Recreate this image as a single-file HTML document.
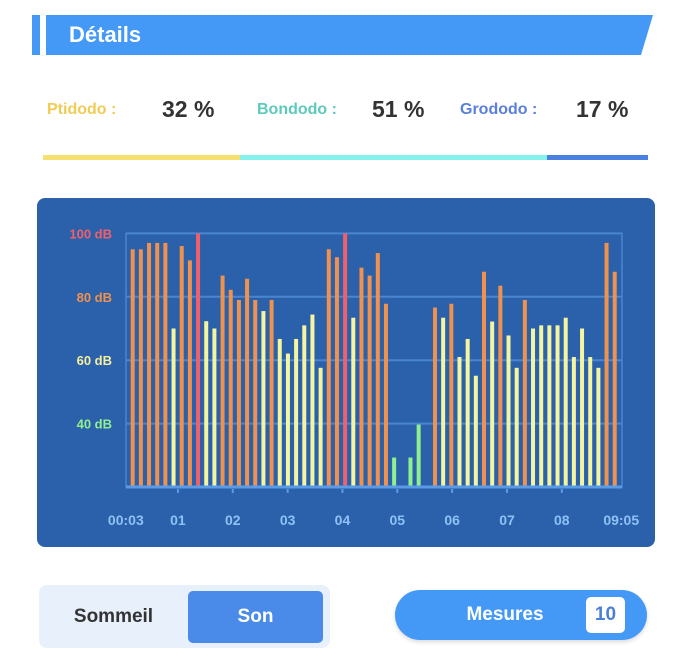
<!DOCTYPE html>
<html><head><meta charset="utf-8"><style>
body{margin:0;width:690px;height:665px;background:#fff;font-family:"Liberation Sans",sans-serif;position:relative;overflow:hidden}
.abs{position:absolute}
</style></head><body>
<div class="abs" style="left:32px;top:15px;width:8px;height:40px;background:#4499f7"></div>
<svg class="abs" style="left:0;top:0" width="690" height="60"><polygon points="46,15 653,15 641,55 46,55" fill="#4499f7"/></svg>
<div class="abs" style="left:69px;top:20px;font-size:22px;font-weight:bold;color:#fff;line-height:30px">Détails</div>

<div class="abs" style="left:47px;top:101px;font-size:16px;font-weight:bold;color:#f0cc55">Ptidodo :</div>
<div class="abs" style="left:162px;top:96px;font-size:23px;font-weight:bold;color:#333">32 %</div>
<div class="abs" style="left:257px;top:101px;font-size:16px;font-weight:bold;color:#5ccbbb">Bondodo :</div>
<div class="abs" style="left:372px;top:96px;font-size:23px;font-weight:bold;color:#333">51 %</div>
<div class="abs" style="left:460px;top:101px;font-size:16px;font-weight:bold;color:#5a7fdc">Grododo :</div>
<div class="abs" style="left:576px;top:96px;font-size:23px;font-weight:bold;color:#333">17 %</div>
<div class="abs" style="left:43px;top:155px;width:197px;height:5px;background:#f5e070"></div>
<div class="abs" style="left:240px;top:155px;width:307px;height:5px;background:#86f2ee"></div>
<div class="abs" style="left:547px;top:155px;width:101px;height:5px;background:#4a80e0"></div>

<div class="abs" style="left:37px;top:198px;width:618px;height:349px;background:#2b60aa;border-radius:8px"></div>
<svg id="chart" class="abs" style="left:0;top:0" width="690" height="560"></svg>

<div class="abs" style="left:39px;top:585px;width:291px;height:63px;background:#e8f0fc;border-radius:8px"></div>
<div class="abs" style="left:39px;top:591px;width:149px;height:52px;line-height:52px;text-align:center;font-size:19px;font-weight:bold;color:#333">Sommeil</div>
<div class="abs" style="left:188px;top:591px;width:135px;height:52px;line-height:52px;text-align:center;font-size:19px;font-weight:bold;color:#fff;background:#4a8ae8;border-radius:5px">Son</div>
<div class="abs" style="left:395px;top:590px;width:252px;height:50px;background:#4499f7;border-radius:25px;box-shadow:0 2px 4px rgba(0,0,0,.15)"></div>
<div class="abs" style="left:420px;top:590px;width:170px;line-height:50px;text-align:center;font-size:19px;font-weight:bold;color:#fff">Mesures</div>
<div class="abs" style="left:586px;top:597px;width:39px;height:36px;line-height:36px;text-align:center;background:#fff;border-radius:5px;font-size:19px;font-weight:bold;color:#4a80d8">10</div>

<script>
const values=[95,95,97,97,97,70,96,91.5,100,72.3,70,86.7,82.2,79,85.7,79,75.5,79,66.7,62.1,66.7,71,74.4,57.6,95,92.5,100,73.4,89.2,86.7,93.8,77.8,29.3,null,29.3,39.7,null,76.6,73.4,77.8,61,66.7,55.1,87.9,72.2,83.5,67.8,57.6,79,70,71,71,71,73.4,61,70,61,57.6,97,87.9];
const yTicks=[40,60,80,100];
const yTickLabels=["40 dB","60 dB","80 dB","100 dB"];
const xTickTimes=[3,60,120,180,240,300,360,420,480,545];
const xTickLabels=["00:03","01","02","03","04","05","06","07","08","09:05"];
const NS="http://www.w3.org/2000/svg";
const svg=document.getElementById('chart');
const plotL=126,plotR=622,base=487;
function y(v){return base-(v-20)*3.17;}
function xt(t){return 123.1+0.914*t;}
function xb(i){return 132.7+i*8.17;}
function col(v){return v>=99?"#f0606a":v>=76?"#f0924e":v>=50?"#f5f5a0":"#90f090";}
function tcol(v){return v>=100?"#f0606a":v>=80?"#f0924e":v>=60?"#f5f0a0":"#90f090";}
function mk(tag,a){const e=document.createElementNS(NS,tag);for(const k in a)e.setAttribute(k,a[k]);svg.appendChild(e);return e;}
// frame
let fr=mk('rect',{x:plotL,y:y(100),width:plotR-plotL,height:base-y(100),fill:'none',stroke:'#4a85d0','stroke-width':1.5});


yTicks.forEach((v,i)=>{
  const g=mk('line',{x1:plotL,x2:plotR,y1:y(v),y2:y(v),stroke:'#4a85d0','stroke-width':2});
  
  
  const t=mk('text',{x:112,y:y(v)+5,'text-anchor':'end','font-size':13,'font-weight':'bold',fill:tcol(v),'font-family':'Liberation Sans, sans-serif'});
  t.textContent=yTickLabels[i];
  
  
});
values.forEach((v,i)=>{
  if(v==null)return;
  const r=mk('rect',{x:xb(i)-2,y:y(v),width:4,height:base-y(v),fill:col(v)});
  
  
});
let ax=mk('line',{x1:plotL,x2:plotR,y1:base,y2:base,stroke:'#5a9be8','stroke-width':3});


xTickTimes.forEach((tm,i)=>{
  if(i>0&&i<xTickTimes.length-1){
    const k=mk('line',{x1:xt(tm),x2:xt(tm),y1:base+2,y2:base+6,stroke:'#5a9be8','stroke-width':2});
    
    
  }
  const t=mk('text',{x:xt(tm),y:525,'text-anchor':'middle','font-size':14,'font-weight':'bold',fill:'#8ec2f5','font-family':'Liberation Sans, sans-serif'});
  t.textContent=xTickLabels[i];
  
  
});
</script>
</body></html>
